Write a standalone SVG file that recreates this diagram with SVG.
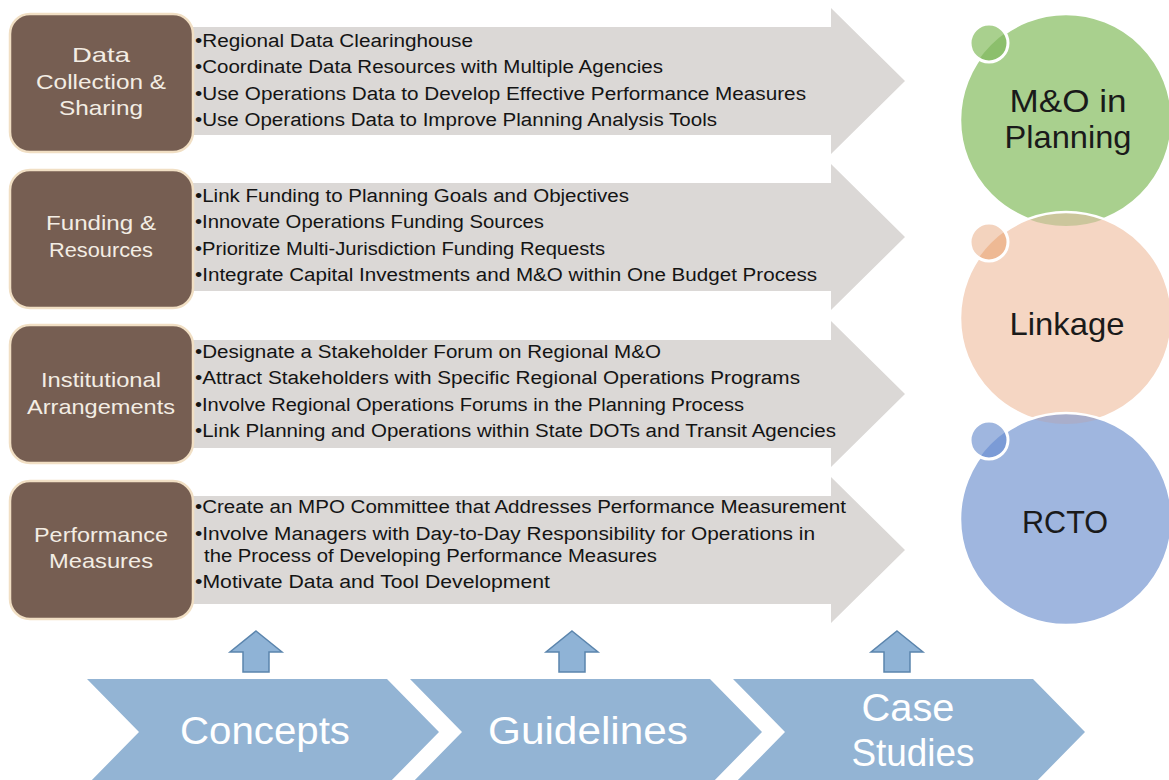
<svg xmlns="http://www.w3.org/2000/svg" width="1169" height="780" viewBox="0 0 1169 780">
  <style>
    .box { fill: #765e52; stroke: #f1dfc4; stroke-width: 2.5; }
    .boxtxt { font-family: "Liberation Sans", Arial, sans-serif; font-size: 21px; fill: #f3ede4; text-anchor: middle; }
    .garrow { fill: #dbd8d6; }
    .bul { font-family: "Liberation Sans", Arial, sans-serif; font-size: 18px; fill: #141414; }
    .chev { fill: #93b4d4; }
    .chevtxt { font-family: "Liberation Sans", Arial, sans-serif; font-size: 38px; fill: #ffffff; text-anchor: middle; }
    .up { fill: #8fb3d6; stroke: #5b85ad; stroke-width: 1.5; stroke-linejoin: miter; }
    .ctxt { font-family: "Liberation Sans", Arial, sans-serif; font-size: 32px; fill: #1a1a1a; text-anchor: middle; }
    .ring { fill: none; stroke: #ffffff; stroke-width: 2.5; }
    .sring { fill: none; stroke: #ffffff; stroke-width: 3; }
  </style>
  <defs>
    <clipPath id="cpGreen"><circle cx="1066" cy="120" r="106"/></clipPath>
    <clipPath id="cpPeach"><circle cx="1066" cy="318" r="106"/></clipPath>
    <clipPath id="cpBlue"><circle cx="1066" cy="519" r="106"/></clipPath>
    <clipPath id="cpSG"><circle cx="989" cy="43" r="19"/></clipPath>
    <clipPath id="cpSP"><circle cx="989" cy="242" r="19"/></clipPath>
    <clipPath id="cpSB"><circle cx="989" cy="440" r="19"/></clipPath>
  </defs>
  <rect width="1169" height="780" fill="#ffffff"/>

  <!-- Row 1 -->
  <g id="row-data">
    <path class="garrow" d="M180,27 L831,27 L831,8 L905,81 L831,154 L831,135 L180,135 Z"/>
    <rect class="box" x="10" y="14" width="183" height="138" rx="20"/>
    <text class="boxtxt" x="101" y="62" textLength="58" lengthAdjust="spacingAndGlyphs">Data</text>
    <text class="boxtxt" x="101" y="89" textLength="130" lengthAdjust="spacingAndGlyphs">Collection &amp;</text>
    <text class="boxtxt" x="101" y="115" textLength="84" lengthAdjust="spacingAndGlyphs">Sharing</text>
    <text class="bul" x="195" y="47" textLength="278" lengthAdjust="spacingAndGlyphs">•Regional Data Clearinghouse</text>
    <text class="bul" x="195" y="73" textLength="468" lengthAdjust="spacingAndGlyphs">•Coordinate Data Resources with Multiple Agencies</text>
    <text class="bul" x="195" y="100" textLength="611" lengthAdjust="spacingAndGlyphs">•Use Operations Data to Develop Effective Performance Measures</text>
    <text class="bul" x="195" y="126" textLength="522" lengthAdjust="spacingAndGlyphs">•Use Operations Data to Improve Planning Analysis Tools</text>
  </g>

  <!-- Row 2 -->
  <g id="row-funding">
    <path class="garrow" d="M180,183 L831,183 L831,164 L905,237 L831,310 L831,291 L180,291 Z"/>
    <rect class="box" x="10" y="170" width="183" height="138" rx="20"/>
    <text class="boxtxt" x="101" y="230" textLength="110" lengthAdjust="spacingAndGlyphs">Funding &amp;</text>
    <text class="boxtxt" x="101" y="257" textLength="104" lengthAdjust="spacingAndGlyphs">Resources</text>
    <text class="bul" x="195" y="202" textLength="434" lengthAdjust="spacingAndGlyphs">•Link Funding to Planning Goals and Objectives</text>
    <text class="bul" x="195" y="228" textLength="349" lengthAdjust="spacingAndGlyphs">•Innovate Operations Funding Sources</text>
    <text class="bul" x="195" y="255" textLength="410" lengthAdjust="spacingAndGlyphs">•Prioritize Multi-Jurisdiction Funding Requests</text>
    <text class="bul" x="195" y="281" textLength="622" lengthAdjust="spacingAndGlyphs">•Integrate Capital Investments and M&amp;O within One Budget Process</text>
  </g>

  <!-- Row 3 -->
  <g id="row-institutional">
    <path class="garrow" d="M180,340 L831,340 L831,321 L905,394 L831,467 L831,448 L180,448 Z"/>
    <rect class="box" x="10" y="325" width="183" height="138" rx="20"/>
    <text class="boxtxt" x="101" y="387" textLength="120" lengthAdjust="spacingAndGlyphs">Institutional</text>
    <text class="boxtxt" x="101" y="414" textLength="148" lengthAdjust="spacingAndGlyphs">Arrangements</text>
    <text class="bul" x="195" y="358" textLength="466" lengthAdjust="spacingAndGlyphs">•Designate a Stakeholder Forum on Regional M&amp;O</text>
    <text class="bul" x="195" y="384" textLength="605" lengthAdjust="spacingAndGlyphs">•Attract Stakeholders with Specific Regional Operations Programs</text>
    <text class="bul" x="195" y="411" textLength="549" lengthAdjust="spacingAndGlyphs">•Involve Regional Operations Forums in the Planning Process</text>
    <text class="bul" x="195" y="437" textLength="641" lengthAdjust="spacingAndGlyphs">•Link Planning and Operations within State DOTs and Transit Agencies</text>
  </g>

  <!-- Row 4 -->
  <g id="row-performance">
    <path class="garrow" d="M180,496 L831,496 L831,477 L905,550 L831,623 L831,604 L180,604 Z"/>
    <rect class="box" x="10" y="481" width="183" height="138" rx="20"/>
    <text class="boxtxt" x="101" y="542" textLength="134" lengthAdjust="spacingAndGlyphs">Performance</text>
    <text class="boxtxt" x="101" y="568" textLength="104" lengthAdjust="spacingAndGlyphs">Measures</text>
    <text class="bul" x="195" y="513" textLength="651" lengthAdjust="spacingAndGlyphs">•Create an MPO Committee that Addresses Performance Measurement</text>
    <text class="bul" x="195" y="540" textLength="620" lengthAdjust="spacingAndGlyphs">•Involve Managers with Day-to-Day Responsibility for Operations in</text>
    <text class="bul" x="204" y="562" textLength="453" lengthAdjust="spacingAndGlyphs">the Process of Developing Performance Measures</text>
    <text class="bul" x="195" y="588" textLength="355" lengthAdjust="spacingAndGlyphs">•Motivate Data and Tool Development</text>
  </g>

  <!-- Circles -->
  <g id="circle-mo">
    <circle cx="1066" cy="120" r="106" fill="#a9d08e"/>
    <circle class="ring" cx="1066" cy="120" r="106"/>
  </g>
  <g id="circle-linkage">
    <circle cx="1066" cy="318" r="106" fill="#f5d6c3"/>
    <circle cx="1066" cy="120" r="106" fill="#cbc69c" clip-path="url(#cpPeach)"/>
    <circle class="ring" cx="1066" cy="318" r="106"/>
  </g>
  <g id="circle-rcto">
    <circle cx="1066" cy="519" r="106" fill="#9fb6df"/>
    <circle cx="1066" cy="318" r="106" fill="#a9aecb" clip-path="url(#cpBlue)"/>
    <circle class="ring" cx="1066" cy="519" r="106"/>
  </g>
  <g id="small-circles">
    <circle cx="989" cy="43" r="19" fill="#a9d08e"/>
    <circle cx="1066" cy="120" r="106" fill="#8cbf6c" clip-path="url(#cpSG)"/>
    <circle class="sring" cx="989" cy="43" r="19"/>
    <circle cx="989" cy="242" r="19" fill="#f3d3be"/>
    <circle cx="1066" cy="318" r="106" fill="#eeb994" clip-path="url(#cpSP)"/>
    <circle class="sring" cx="989" cy="242" r="19"/>
    <circle cx="989" cy="440" r="19" fill="#9fb6df"/>
    <circle cx="1066" cy="519" r="106" fill="#7b9bd6" clip-path="url(#cpSB)"/>
    <circle class="sring" cx="989" cy="440" r="19"/>
  </g>
  <g id="circle-labels">
    <text class="ctxt" x="1068" y="112" textLength="117" lengthAdjust="spacingAndGlyphs">M&amp;O in</text>
    <text class="ctxt" x="1068" y="148" textLength="127" lengthAdjust="spacingAndGlyphs">Planning</text>
    <text class="ctxt" x="1067" y="335" textLength="115" lengthAdjust="spacingAndGlyphs">Linkage</text>
    <text class="ctxt" x="1065" y="533" textLength="86" lengthAdjust="spacingAndGlyphs">RCTO</text>
  </g>

  <!-- Bottom chevrons -->
  <g id="chevron-concepts">
    <path class="chev" d="M87,679 L387,679 L439,732 L387,785 L87,785 L139,732 Z"/>
    <text class="chevtxt" x="265" y="744" textLength="170" lengthAdjust="spacingAndGlyphs">Concepts</text>
  </g>
  <g id="chevron-guidelines">
    <path class="chev" d="M410,679 L710,679 L762,732 L710,785 L410,785 L462,732 Z"/>
    <text class="chevtxt" x="588" y="744" textLength="200" lengthAdjust="spacingAndGlyphs">Guidelines</text>
  </g>
  <g id="chevron-case">
    <path class="chev" d="M733,679 L1033,679 L1085,732 L1033,785 L733,785 L785,732 Z"/>
    <text class="chevtxt" x="908" y="721" textLength="93" lengthAdjust="spacingAndGlyphs">Case</text>
    <text class="chevtxt" x="913" y="766" textLength="123" lengthAdjust="spacingAndGlyphs">Studies</text>
  </g>

  <!-- Connectors: up arrows -->
  <g id="connectors">
    <path class="up" d="M256,631 L282,652 L269,652 L269,672 L243,672 L243,652 L230,652 Z"/>
    <path class="up" d="M572,631 L598,652 L585,652 L585,672 L559,672 L559,652 L546,652 Z"/>
    <path class="up" d="M897,631 L923,652 L910,652 L910,672 L884,672 L884,652 L871,652 Z"/>
  </g>
</svg>
